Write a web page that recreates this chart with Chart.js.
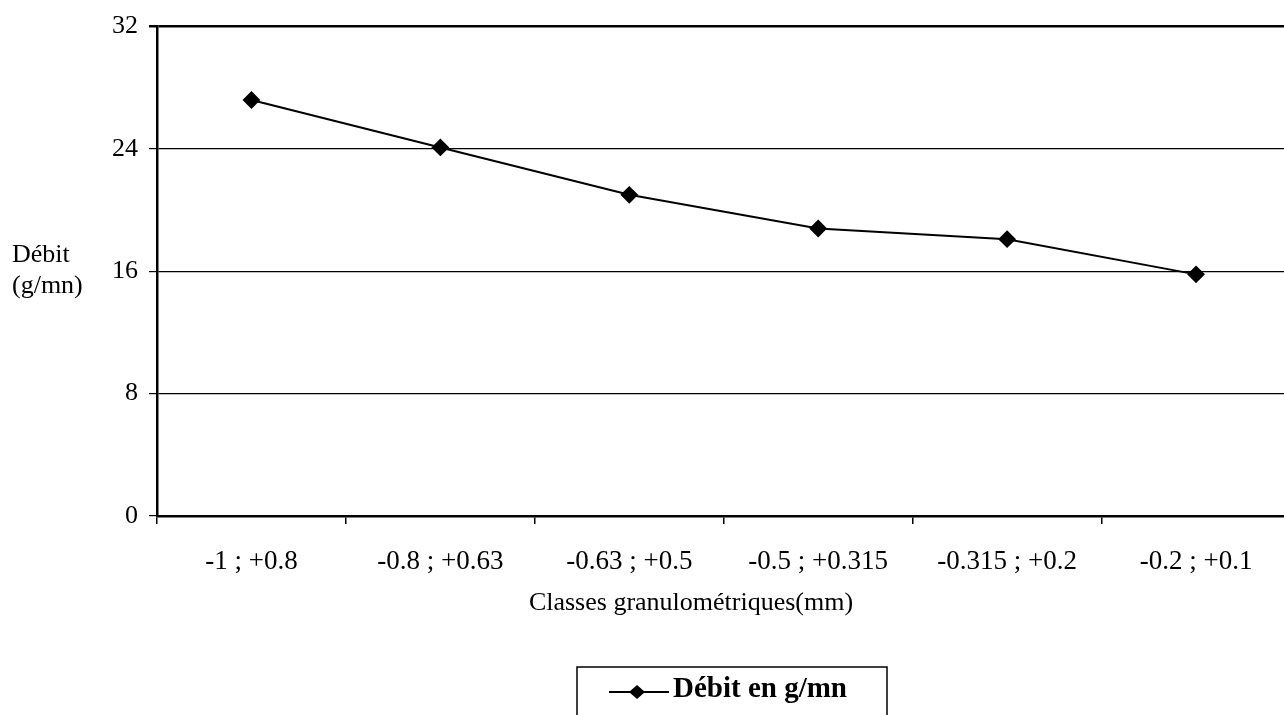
<!DOCTYPE html>
<html>
<head>
<meta charset="utf-8">
<script src="https://cdn.jsdelivr.net/npm/chart.js@4"></script>
<style>
  html, body { margin: 0; padding: 0; background: #fff; overflow: hidden; width: 1284px; height: 715px; }
  #wrap { position: absolute; left: 0; top: 0; width: 1300px; height: 740px; }
</style>
</head>
<body>
<div id="wrap"><canvas id="c" width="1300" height="740"></canvas></div>
<script>
const categories = ['-1 ; +0.8', '-0.8 ; +0.63', '-0.63 ; +0.5', '-0.5 ; +0.315', '-0.315 ; +0.2', '-0.2 ; +0.1'];
const debit = [27.2, 24.1, 21.0, 18.8, 18.1, 15.8];
const seriesName = 'Débit en g/mn';
const yTitleLines = ['Débit', '(g/mn)'];
const xTitle = 'Classes granulométriques(mm)';
const yMin = 0, yMax = 32, yStep = 8;

const serif = '"Liberation Serif", "Times New Roman", serif';

const textPlugin = {
  id: 'extraText',
  afterDraw(chart) {
    const ctx = chart.ctx;
    ctx.save();
    ctx.fillStyle = '#000';
    // y-axis title, horizontal
    ctx.font = '26px ' + serif;
    ctx.textAlign = 'left';
    ctx.textBaseline = 'middle';
    ctx.fillText(yTitleLines[0], 12, 255);
    ctx.fillText(yTitleLines[1], 12, 286);
    // x-axis title
    ctx.textAlign = 'center';
    ctx.font = '26px ' + serif;
    ctx.fillText(xTitle, 691, 603);
    ctx.restore();
  }
};

const legendPlugin = {
  id: 'boxLegend',
  afterDraw(chart) {
    const ctx = chart.ctx;
    ctx.save();
    ctx.strokeStyle = '#000';
    ctx.lineWidth = 1.5;
    ctx.strokeRect(577, 667, 310, 100);
    const cy = 692;
    ctx.lineWidth = 2;
    ctx.beginPath();
    ctx.moveTo(609, cy);
    ctx.lineTo(669, cy);
    ctx.stroke();
    ctx.fillStyle = '#000';
    ctx.beginPath();
    ctx.moveTo(637, cy - 7);
    ctx.lineTo(645, cy);
    ctx.lineTo(637, cy + 7);
    ctx.lineTo(629, cy);
    ctx.closePath();
    ctx.fill();
    ctx.font = 'bold 29px ' + serif;
    ctx.textAlign = 'left';
    ctx.textBaseline = 'middle';
    ctx.fillText(seriesName, 673, cy - 2);
    ctx.restore();
  }
};

new Chart(document.getElementById('c'), {
  type: 'line',
  data: {
    labels: categories,
    datasets: [{
      label: seriesName,
      data: debit,
      borderColor: '#000',
      backgroundColor: '#000',
      borderWidth: 2,
      pointStyle: 'rectRot',
      pointRadius: 7.5,
      pointBackgroundColor: '#000',
      pointBorderColor: '#000',
      tension: 0,
      fill: false
    }]
  },
  options: {
    responsive: false,
    animation: false,
    events: [],
    layout: { padding: { left: 0, right: 3, top: 25, bottom: 120 } },
    plugins: {
      legend: { display: false },
      tooltip: { enabled: false },
      title: { display: false }
    },
    scales: {
      x: {
        type: 'category',
        offset: true,
        grid: {
          offset: true,
          drawOnChartArea: false,
          drawTicks: true,
          tickLength: 8,
          color: '#000',
          lineWidth: 1.5
        },
        border: { display: true, color: '#000', width: 2.5 },
        ticks: {
          color: '#000',
          font: { family: serif, size: 27 },
          padding: 22,
          maxRotation: 0,
          autoSkip: false
        },
        title: { display: false },
        afterFit(scale) { scale.height = 104; }
      },
      y: {
        min: yMin,
        max: yMax,
        grid: {
          color: '#000',
          lineWidth: (c) => (c.tick && c.tick.value === yMax ? 2.5 : 1.2),
          drawTicks: true,
          tickLength: 8
        },
        border: { display: true, color: '#000', width: 2.5 },
        ticks: {
          stepSize: yStep,
          color: '#000',
          font: { family: serif, size: 26 },
          padding: 11
        },
        afterFit(scale) { scale.width = 157; }
      }
    }
  },
  plugins: [textPlugin, legendPlugin]
});
</script>
</body>
</html>
